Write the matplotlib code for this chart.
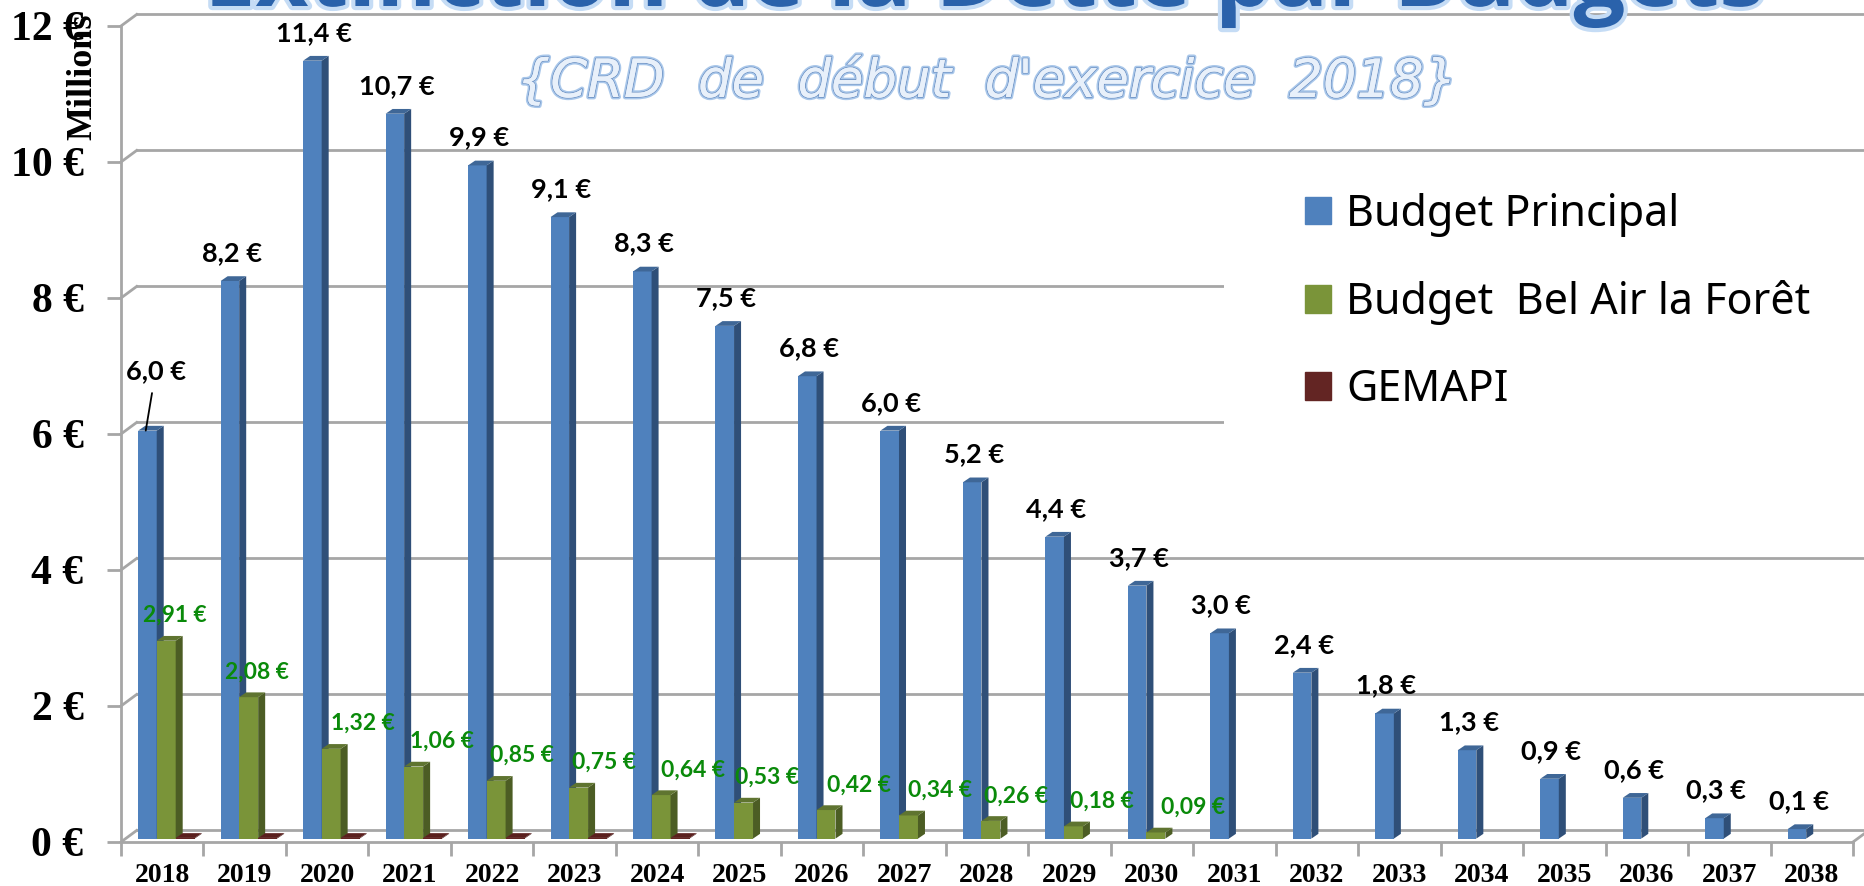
import matplotlib
matplotlib.use('Agg')
import matplotlib.pyplot as plt
import matplotlib.patheffects as pe
from matplotlib.patches import Patch, Rectangle

years = list(range(2018, 2039))
principal = [6.0, 8.2, 11.44, 10.66, 9.9, 9.14, 8.34, 7.54, 6.8, 6.0, 5.24, 4.44, 3.72, 3.02, 2.44, 1.84, 1.3, 0.88, 0.6, 0.3, 0.14]
bel_air = [2.91, 2.08, 1.32, 1.06, 0.85, 0.75, 0.64, 0.53, 0.42, 0.34, 0.26, 0.18, 0.09]
gemapi = [0.01, 0.01, 0.01, 0.01, 0.01, 0.01, 0.01]
yticks = [0, 2, 4, 6, 8, 10, 12]

# labels of the green series are pushed around by hand in the original
bel_air_shift = [0.15, 0.15, 0.43, 0.39, 0.36, 0.35, 0.43, 0.33, 0.45, 0.43, 0.35, 0.39, 0.50]

BLUE = ('#4f81bd', '#2f4f78', '#3f6797')
GREEN = ('#7a9439', '#4c5d24', '#5f7430')
RED = ('#632523', '#451917', '#5a1f1d')
GRID = '#a6a6a6'

# depth of the fake 3d
dx, dy = 0.085, 0.07
wall_dx, wall_dy = 0.19, 0.17
base = 0.05


def bars_3d(ax, left, width, values, colors, z):
    xs = [i + left - 0.5 for i in range(len(values))]
    ax.bar(xs, values, width, bottom=base, align='edge', color=colors[0], zorder=z, clip_on=False)
    for x, v in zip(xs, values):
        top = v + base
        # side face
        ax.fill([x + width, x + width + dx, x + width + dx, x + width],
                [base, base + dy, top + dy, top], color=colors[1], lw=0, zorder=z, clip_on=False)
        # top face
        ax.fill([x, x + width, x + width + dx, x + dx],
                [top, top, top + dy, top + dy], color=colors[2], lw=0, zorder=z, clip_on=False)


fig = plt.figure(figsize=(18.64, 8.86), dpi=100)
ax = fig.add_axes([121 / 1864, 1 - 842 / 886, (1853 - 121) / 1864, (842 - 26) / 886])
ax.set_xlim(-0.5, 20.5)
ax.set_ylim(0, 12)

for s in ['top', 'right']:
    ax.spines[s].set_visible(False)
for s in ['left', 'bottom']:
    ax.spines[s].set_color(GRID)
    ax.spines[s].set_linewidth(2)

# back wall and floor
for t in yticks:
    ax.plot([-0.5 + wall_dx, 20.5 + wall_dx], [t + wall_dy, t + wall_dy], color=GRID, lw=2, zorder=1, clip_on=False)
    ax.plot([-0.5, -0.5 + wall_dx], [t, t + wall_dy], color=GRID, lw=2, zorder=1, clip_on=False)
ax.plot([20.5, 20.5 + wall_dx], [0, wall_dy], color=GRID, lw=2, zorder=1, clip_on=False)

# the legend sits on a white block that hides the 6 and 8 grid lines
ax.add_patch(Rectangle((1224 / 1864, 1 - 426 / 886), 640 / 1864, 266 / 886, transform=fig.transFigure,
                       facecolor='white', edgecolor='none', zorder=2, clip_on=False))

bars_3d(ax, 0.208, 0.225, principal, BLUE, 3)
bars_3d(ax, 0.433, 0.23, bel_air, GREEN, 4)
bars_3d(ax, 0.663, 0.23, gemapi, RED, 4)

ax.set_yticks(yticks)
ax.set_yticklabels(['%d €' % t for t in yticks], family='Liberation Serif', weight='bold', fontsize=30)
ax.set_xticks([i - 0.5 for i in range(len(years) + 1)])
ax.set_xticklabels([])
ax.set_xticks(range(len(years)), minor=True)
ax.set_xticklabels(years, minor=True, family='Liberation Serif', weight='bold', fontsize=20)
ax.tick_params(axis='x', which='major', length=10, width=2, color=GRID)
ax.tick_params(axis='x', which='minor', length=0, pad=15)
ax.tick_params(axis='y', length=10, width=2, color=GRID, pad=17)

for i, v in enumerate(principal):
    lab = ('%.1f €' % v).replace('.', ',')
    if i == 0:
        ax.annotate(lab, xy=(i - 0.2, v + 0.05), xytext=(i - 0.08, v + 0.92), ha='center', va='center',
                    family='Lato', weight='bold', fontsize=19.5, zorder=6,
                    arrowprops=dict(arrowstyle='-', color='black', lw=1.3, shrinkA=5, shrinkB=0))
    else:
        ax.text(i - 0.16, v + 0.46, lab, ha='center', va='center', family='Lato', weight='bold', fontsize=19.5, zorder=6)

for i, v in enumerate(bel_air):
    lab = ('%.2f €' % v).replace('.', ',')
    ax.text(i + bel_air_shift[i], v + 0.42, lab, ha='center', va='center', color='#0a8a0a',
            family='Lato', weight='bold', fontsize=16.5, zorder=6)

handles = [Patch(color=BLUE[0]), Patch(color=GREEN[0]), Patch(color=RED[0])]
leg = ax.legend(handles, ['Budget Principal', 'Budget  Bel Air la Forêt', 'GEMAPI'],
                loc='upper left', bbox_to_anchor=(1305 / 1864, 1 - 193 / 886), bbox_transform=fig.transFigure,
                frameon=False, prop={'family': 'Noto Sans', 'size': 31}, handlelength=0.6, handleheight=0.6,
                labelspacing=1.0, handletextpad=0.36, borderpad=0, borderaxespad=0)
leg.set_zorder(5)

fig.text(0.0447, 0.913, 'Millions', rotation=90, ha='center', va='center',
         family='Liberation Serif', weight='bold', fontsize=26)

title = fig.text(0.528, 1 - 6 / 886, 'Extinction de la Dette par Budgets', ha='center', va='baseline',
                 family='Open Sans', weight='bold', fontsize=66, color='#2a62ab')
title.set_path_effects([pe.withStroke(linewidth=6, foreground='#c5dcf5')])
sub = fig.text(0.5293, 1 - 97 / 886, '{CRD  de  début  d\'exercice  2018}', ha='center', va='baseline',
               family='DejaVu Sans', style='italic', fontsize=38, color='#e8f0fa')
sub.set_path_effects([pe.withStroke(linewidth=3.5, foreground='#a9c7ea'),
                      pe.withStroke(linewidth=1.2, foreground='#6f93c4'),
                      pe.Normal()])

fig.savefig('out.png', dpi=100)
